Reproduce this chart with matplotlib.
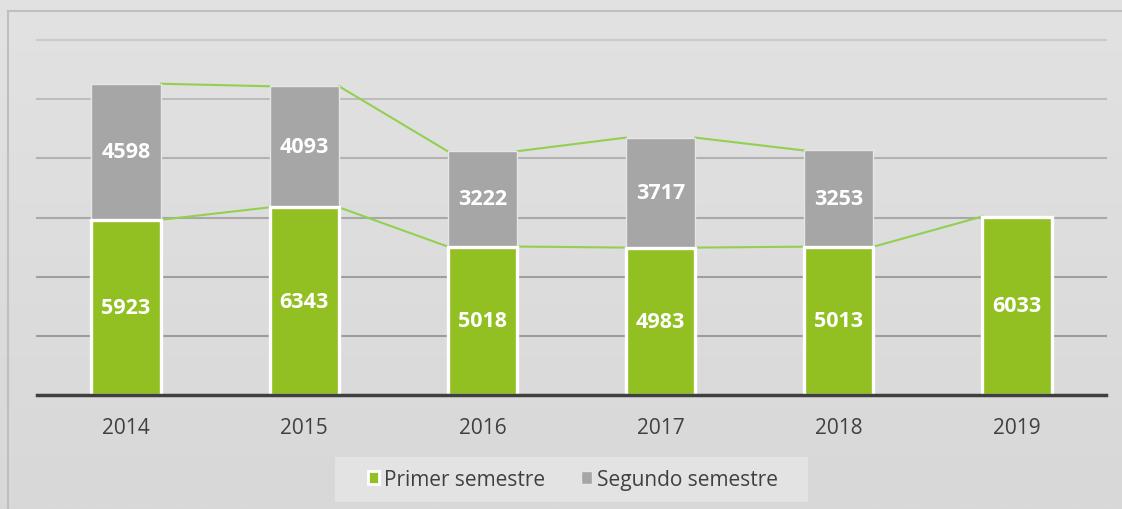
import numpy as np
import matplotlib
matplotlib.use("Agg")
import matplotlib.pyplot as plt
from matplotlib.patches import Patch, Rectangle
from matplotlib.colors import LinearSegmentedColormap

years = ["2014", "2015", "2016", "2017", "2018", "2019"]
primer = [5923, 6343, 5018, 4983, 5013, 6033]
segundo = [4598, 4093, 3222, 3717, 3253, None]
series_names = ["Primer semestre", "Segundo semestre"]

GREEN = "#92c023"
GRAY = "#a6a6a6"
LINE = "#92d050"
TXT = "#404040"

plt.rcParams['font.family'] = ['Open Sans', 'DejaVu Sans']

W, H = 1122, 510
fig = plt.figure(figsize=(W / 100, H / 100), dpi=100)

# background gradient
bg = fig.add_axes([0, 0, 1, 1], zorder=-10)
grad = np.linspace(0, 1, 256).reshape(-1, 1)
cmap = LinearSegmentedColormap.from_list("bg", ["#e2e2e2", "#d8d8d8"])
bg.imshow(grad, aspect="auto", cmap=cmap, extent=[0, 1, 0, 1], origin="upper")
bg.set_xlim(0, 1); bg.set_ylim(0, 1)
bg.axis("off")
bx, by = 8 / W, 1 - 12 / H
bg.plot([bx, bx], [0, by], color="#bfbfbf", lw=1.5)
bg.plot([bx, 1], [by, by], color="#bfbfbf", lw=1.5)
# legend box
bg.add_patch(Rectangle((335 / W, 1 - 503 / H), (808 - 335) / W, 45 / H,
                       facecolor="#e3e3e3", edgecolor="none", zorder=1))

ax = fig.add_axes([37 / W, 1 - 396 / H, (1106 - 37) / W, (396 - 41) / H])
ax.set_facecolor("none")
ax.set_xlim(-0.5, len(years) - 0.5)
ax.set_ylim(0, 12000)

grid_vals = [2000, 4000, 6000, 8000, 10000, 12000]
grid_cols = ["#9b9b9b", "#9f9f9f", "#a8a8a8", "#b2b2b2", "#bdbdbd", "#cacaca"]
for gv, gc in zip(grid_vals, grid_cols):
    ax.axhline(gv, color=gc, lw=1.5, zorder=0, clip_on=False)

x = np.arange(len(years))
w = 0.39
seg_vals = [s if s is not None else 0 for s in segundo]
has_seg = [s is not None for s in segundo]

ax.bar(x[has_seg], [s for s in segundo if s is not None],
       bottom=np.array(primer)[has_seg], width=w, color=GRAY,
       edgecolor="#e6e6e6", linewidth=1.0, zorder=2)
ax.bar(x, primer, width=w, color=GREEN, edgecolor="white",
       linewidth=2.4, zorder=3)

tops = [p + s for p, s in zip(primer, seg_vals)]
for i in range(len(years) - 1):
    ax.plot([x[i] + w / 2, x[i + 1] - w / 2], [primer[i], primer[i + 1]],
            color=LINE, lw=1.5, zorder=1.5)
    if has_seg[i] and has_seg[i + 1]:
        ax.plot([x[i] + w / 2, x[i + 1] - w / 2], [tops[i], tops[i + 1]],
                color=LINE, lw=1.5, zorder=1.5)

for i in range(len(years)):
    ax.text(x[i], primer[i] / 2, str(primer[i]), ha="center", va="center",
            color="white", fontsize=15.5, fontweight="bold", zorder=5)
    if has_seg[i]:
        ax.text(x[i], primer[i] + segundo[i] / 2, str(segundo[i]), ha="center",
                va="center", color="white", fontsize=15.5, fontweight="bold", zorder=5)

ax.axhline(0, color="#404040", lw=2.5, zorder=4, clip_on=False)

for sp in ax.spines.values():
    sp.set_visible(False)
ax.set_yticks([])
ax.set_xticks(x)
ax.set_xticklabels(years, fontsize=15, color=TXT)
ax.tick_params(axis="x", length=0, pad=16)

handles = [Patch(facecolor=GREEN, edgecolor="white", linewidth=2.0, label=series_names[0]),
           Patch(facecolor=GRAY, edgecolor="#e6e6e6", linewidth=1.0, label=series_names[1])]
leg = fig.legend(handles=handles, loc="center", bbox_to_anchor=(573 / W, 1 - 480.5 / H),
                 ncol=2, frameon=False, fontsize=15, handlelength=0.55, handleheight=0.55,
                 handletextpad=0.25, columnspacing=1.7, borderpad=0.3,
                 labelcolor=TXT)

fig.savefig("out.png", dpi=100)
